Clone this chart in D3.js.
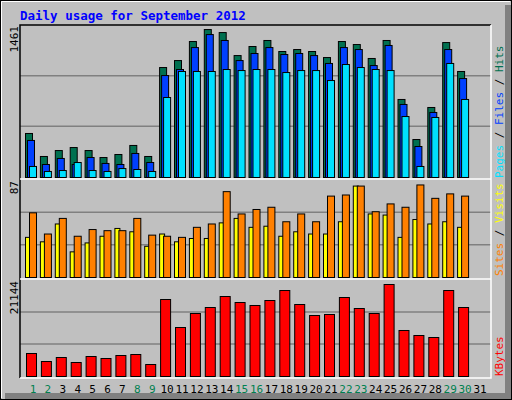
<!DOCTYPE html>
<html><head><meta charset="utf-8">
<script src="https://cdn.jsdelivr.net/npm/d3@7"></script>
<style>body{margin:0;background:#fff}</style></head>
<body><svg id="c" width="512" height="400"></svg>
<script>
const days = d3.range(1,32);
const weekend = [1,2,8,9,15,16,22,23,29,30];
const hits  = [423,202,259,288,259,192,221,308,202,1057,1124,1307,1422,1393,1172,1259,1317,1211,1230,1211,1153,1307,1278,1144,1317,750,365,673,1297,1019,0];
const files = [356,125,183,125,192,135,125,231,144,980,1038,1249,1374,1317,1124,1192,1249,1182,1192,1172,1096,1249,1230,1076,1269,702,298,625,1230,951,0];
const pages = [106,58,67,144,67,58,86,77,58,769,1019,1019,1019,1038,1028,1038,1038,1009,1028,1028,932,1086,1057,1038,1028,586,106,577,1096,750,0];
const visits= [58,39,53,37,43,42,42,53,38,37,36,45,48,77,57,61,63,50,57,50,73,74,82,59,66,63,83,71,75,73,0];
const sites = [36,32,48,23,31,37,44,41,28,39,32,35,35,49,53,45,46,37,41,39,39,50,82,57,56,36,52,48,50,45,0];
const kbytes= [5066,3304,4185,3084,4405,3965,4625,4845,2643,16959,10792,13876,15197,17620,16298,15638,16739,18941,15858,13435,13656,17400,14977,13876,20263,10132,9030,8590,18941,15197,0];
const maxPages=1461, maxVisits=87, maxKB=21144;

const svg=d3.select("#c");
const F="'DejaVu Sans Mono', monospace";
svg.append("rect").attr("width",512).attr("height",400).attr("fill","#c0c0c0");
svg.append("rect").attr("x",0.5).attr("y",0.5).attr("width",511).attr("height",399).attr("fill","none").attr("stroke","#000");
svg.append("path").attr("d","M1.5,398V1.5H510").attr("stroke","#fff").attr("fill","none");
svg.append("rect").attr("x",505).attr("y",5).attr("width",6).attr("height",394).attr("fill","#808080");
svg.append("rect").attr("x",5).attr("y",393).attr("width",506).attr("height",6).attr("fill","#808080");
svg.append("text").attr("x",20).attr("y",20).attr("font-family",F).attr("font-weight","bold").attr("font-size",12.5).attr("fill","#0000ff").text("Daily usage for September 2012");

const x=d3.scaleLinear().domain([1,31]).range([33,480]);
const L=20,R=491;
function panel(top,bot,max){
  const y=d3.scaleLinear().domain([0,max]).range([bot,top]);
  [1/3,2/3].forEach(f=>svg.append("line").attr("x1",L).attr("x2",R).attr("y1",y(max*f)).attr("y2",y(max*f)).attr("stroke","#808080").attr("stroke-width",1.5));
  return y;
}
svg.append("rect").attr("x",L).attr("y",25).attr("width",R-L).attr("height",353).attr("fill","#c0c0c0");
const y1=panel(25,177,maxPages), y2=panel(180,277,maxVisits), y3=panel(280,376,maxKB);
function bars(data,y,off,w,col){
  svg.append("g").selectAll("rect").data(days.filter((d,i)=>data[i]>0)).join("rect")
   .attr("x",d=>x(d)+off+0.5).attr("width",w).attr("y",d=>y(data[d-1])+0.5)
   .attr("height",d=>y(0)-y(data[d-1])).attr("fill",col).attr("stroke","#000").attr("stroke-width",1);
}
bars(hits,y1,-8,7,"#007050");bars(files,y1,-6,7,"#0040ff");bars(pages,y1,-4,7,"#00e0ff");
bars(sites,y2,-8,5,"#ffff00");bars(visits,y2,-4,7,"#ff8000");
bars(kbytes,y3,-7,10,"#ff0000");
// borders
svg.append("path").attr("d",`M${L},378V25H${R}`).attr("stroke","#000").attr("stroke-width",1.5).attr("fill","none");
svg.append("path").attr("d",`M${R},25V378H${L}`).attr("stroke","#fff").attr("stroke-width",1.5).attr("fill","none");
[179,279].forEach(v=>svg.append("line").attr("x1",L).attr("x2",R).attr("y1",v).attr("y2",v).attr("stroke","#fff").attr("stroke-width",1.5));
// x labels
svg.append("g").selectAll("text").data(days).join("text").attr("x",d=>x(d)).attr("y",393).attr("text-anchor","middle")
 .attr("font-family",F).attr("font-size",11).attr("fill",d=>weekend.includes(d)?"#008050":"#000").text(d=>d);
// left labels
function vlab(px,py,t){svg.append("text").attr("transform",`translate(${px},${py}) rotate(-90)`).attr("text-anchor","end")
 .attr("font-family",F).attr("font-size",11).attr("fill","#000").text(t);}
vlab(18,26,maxPages);vlab(18,181,maxVisits);vlab(18,281,maxKB);
function rlab(px,py,parts){const t=svg.append("text").attr("transform",`translate(${px},${py}) rotate(-90)`).attr("font-family",F).attr("font-size",11);
 parts.forEach(p=>t.append("tspan").attr("fill",p[1]).text(p[0]));}
rlab(503,178,[["Pages","#00e0ff"],[" / ","#000"],["Files","#0040ff"],[" / ","#000"],["Hits","#007050"]]);
rlab(503,276,[["Sites","#ff8000"],[" / ","#000"],["Visits","#ffff00"]]);
rlab(503,376,[["KBytes","#ff0000"]]);
</script></body></html>
